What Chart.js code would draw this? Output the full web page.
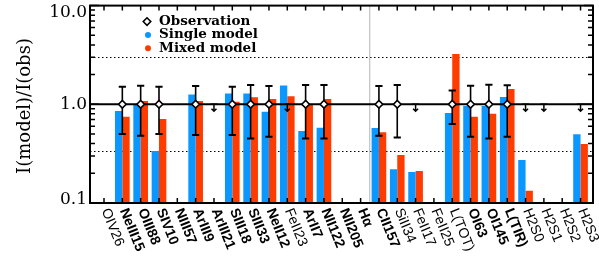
<!DOCTYPE html>
<html>
<head>
<meta charset="utf-8">
<script src="https://cdn.jsdelivr.net/npm/chart.js@4.4.1/dist/chart.umd.min.js"></script>
<style>
html,body{margin:0;padding:0;background:#fff;}
#wrap{width:599px;height:272px;position:relative;}
</style>
</head>
<body>
<div id="wrap"><canvas id="myChart"></canvas></div>
<script>
// line names along the x axis, and which ones are printed in bold
var LINES = ['OIV26','NeIII15','OIII88','SIV10','NIII57','ArIII9','ArIII21','SIII18','SIII33','NeII12',
             'FeII23','ArII7','NII122','NII205','H\u03b1','CII157','SiII34','FeII17','FeII25','L(TOT)',
             'OI63','OI145','L(TIR)','H2S0','H2S1','H2S2','H2S3'];
var BOLD = [0,1,1,1,1,1,1,1,1,1, 0,1,1,1,1,1,0,0,0,0, 1,1,1,0,0,0,0];

// I(model)/I(obs)
var singleModel = [null,0.855,1.0,0.336,null,1.26,null,1.29,1.29,0.84,
                   1.55,0.536,0.58,null,null,0.575,0.22,0.206,null,0.816,
                   0.96,0.96,1.185,0.272,null,null,0.497];
var mixedModel  = [null,0.75,1.08,0.71,null,1.08,null,1.06,1.18,1.13,
                   1.21,1.0,1.13,null,null,0.52,0.306,0.211,null,3.23,
                   0.75,0.80,1.43,0.133,null,null,0.396];

// observations (normalised to 1) with error bar ends
var obsValue = [null,1,1,1,null,1,null,1,1,1, null,1,1,null,null,1,1,null,null,1, 1,1,1,null,null,null,null];
var obsHigh  = [null,1.51,1.54,1.51,null,1.53,null,1.51,1.57,1.53, null,1.57,1.57,null,null,1.53,1.57,null,null,1.38, 1.54,1.58,1.56,null,null,null,null];
var obsLow   = [null,0.50,0.48,0.50,null,0.49,null,0.49,0.45,0.47, null,0.45,0.45,null,null,0.48,0.46,null,null,0.63, 0.47,0.45,0.47,null,null,null,null];
// upper limits (arrow down from 1)
var upperLimit = [null,null,null,null,null,null,1,null,null,null, 1,null,null,null,null,null,null,1,null,null, null,null,null,1,1,null,1];

var yTickValues = [0.1, 1, 10];
var yTickLabels = ['0.1', '1.0', '10.0'];
var dottedLevels = [3, 1/3];

var BLUE = '#0a97ff';
var RED = '#ff3c00';

function pts(arr) {
    return arr.map(function(v, i) { return {x: i, y: v}; });
}

var overlay = {
    id: 'overlay',
    beforeDatasetsDraw: function(chart) {
        var ctx = chart.ctx, a = chart.chartArea, xs = chart.scales.x, ys = chart.scales.y;
        ctx.save();
        // dotted guide lines
        ctx.strokeStyle = '#000';
        ctx.lineWidth = 1;
        ctx.setLineDash([1.5, 2.5]);
        dottedLevels.forEach(function(v) {
            var py = Math.round(ys.getPixelForValue(v)) + 0.5;
            ctx.beginPath(); ctx.moveTo(a.left, py); ctx.lineTo(a.right, py); ctx.stroke();
        });
        ctx.setLineDash([]);
        // grey separator between Halpha and CII157
        var px = xs.getPixelForValue(14.5);
        ctx.strokeStyle = '#b4b4b4';
        ctx.beginPath(); ctx.moveTo(px, a.top); ctx.lineTo(px, a.bottom); ctx.stroke();
        ctx.restore();
    },
    beforeDatasetDraw: function(chart, args) {
        if (args.index !== 2) return;
        var ctx = chart.ctx, a = chart.chartArea, xs = chart.scales.x, ys = chart.scales.y;
        ctx.save();
        ctx.strokeStyle = '#000';
        // line at 1.0
        var p1 = ys.getPixelForValue(1);
        ctx.lineWidth = 2;
        ctx.beginPath(); ctx.moveTo(a.left, p1); ctx.lineTo(a.right, p1); ctx.stroke();
        // error bars
        for (var i = 0; i < LINES.length; i++) {
            if (obsValue[i] == null) continue;
            var px = xs.getPixelForValue(i);
            var hi = ys.getPixelForValue(obsHigh[i]), lo = ys.getPixelForValue(obsLow[i]);
            ctx.lineWidth = 1.6;
            ctx.beginPath(); ctx.moveTo(px, hi); ctx.lineTo(px, lo); ctx.stroke();
            ctx.lineWidth = 2;
            ctx.beginPath();
            ctx.moveTo(px - 3.6, hi); ctx.lineTo(px + 3.6, hi);
            ctx.moveTo(px - 3.6, lo); ctx.lineTo(px + 3.6, lo);
            ctx.stroke();
        }
        // upper limit arrows
        ctx.lineWidth = 1.5;
        for (var j = 0; j < LINES.length; j++) {
            if (upperLimit[j] == null) continue;
            var ax = xs.getPixelForValue(j), ay = ys.getPixelForValue(upperLimit[j]);
            ctx.beginPath();
            ctx.moveTo(ax - 3.5, ay); ctx.lineTo(ax + 3.5, ay);
            ctx.moveTo(ax, ay); ctx.lineTo(ax, ay + 7);
            ctx.moveTo(ax - 2.5, ay + 4.5); ctx.lineTo(ax, ay + 7); ctx.lineTo(ax + 2.5, ay + 4.5);
            ctx.stroke();
        }
        ctx.restore();
    },
    afterDraw: function(chart) {
        var ctx = chart.ctx, a = chart.chartArea, xs = chart.scales.x, ys = chart.scales.y;
        ctx.save();
        ctx.strokeStyle = '#000';
        // ticks on y (both sides, inward)
        ctx.lineWidth = 1.5;
        [0.1, 1].forEach(function(dec) {
            for (var k = 1; k <= 10; k++) {
                var v = dec * k;
                if (k === 10 && dec === 0.1) continue;
                var py = ys.getPixelForValue(v);
                var len = (k === 1 || k === 10) ? 9 : 5;
                ctx.beginPath();
                ctx.moveTo(a.left, py); ctx.lineTo(a.left + len, py);
                ctx.moveTo(a.right, py); ctx.lineTo(a.right - len, py);
                ctx.stroke();
            }
        });
        // ticks on x (top and bottom, inward)
        for (var i = 0; i < LINES.length; i++) {
            var px = xs.getPixelForValue(i);
            ctx.beginPath();
            ctx.moveTo(px, a.top); ctx.lineTo(px, a.top + 5);
            ctx.moveTo(px, a.bottom); ctx.lineTo(px, a.bottom - 5);
            ctx.stroke();
        }
        // frame
        ctx.lineWidth = 2;
        ctx.strokeRect(a.left, a.top, a.right - a.left, a.bottom - a.top);

        // y tick labels
        ctx.fillStyle = '#000';
        ctx.font = '17px "DejaVu Serif"';
        ctx.textAlign = 'right';
        ctx.textBaseline = 'middle';
        var yOff = [-3, 0, 7];
        yTickValues.forEach(function(v, n) {
            ctx.fillText(yTickLabels[n], a.left - 3, ys.getPixelForValue(v) + yOff[n]);
        });

        // y title
        ctx.save();
        ctx.translate(25, 106);
        ctx.rotate(-Math.PI / 2);
        ctx.textAlign = 'center';
        ctx.font = '18px "DejaVu Serif"';
        ctx.fillText('I(model)/I(obs)', 0, 0);
        ctx.restore();

        // rotated x labels
        for (var m = 0; m < LINES.length; m++) {
            var lx = xs.getPixelForValue(m);
            ctx.save();
            ctx.translate(lx + 1, a.bottom + 6);
            ctx.rotate(68 * Math.PI / 180);
            ctx.textAlign = 'left';
            ctx.textBaseline = 'middle';
            ctx.font = (BOLD[m] ? 'bold ' : '') + '14px "Liberation Sans"';
            ctx.fillText(LINES[m], 0, 0);
            ctx.restore();
        }

        // legend
        var lx0 = a.left + 57, ly0 = a.top + 16;
        ctx.font = 'bold 13.5px "DejaVu Serif"';
        ctx.textAlign = 'left';
        ctx.textBaseline = 'middle';
        ctx.lineWidth = 1.5;
        ctx.fillStyle = '#fff';
        ctx.beginPath();
        ctx.moveTo(lx0, ly0 - 3.8); ctx.lineTo(lx0 + 3.8, ly0); ctx.lineTo(lx0, ly0 + 3.8); ctx.lineTo(lx0 - 3.8, ly0);
        ctx.closePath(); ctx.fill(); ctx.stroke();
        ctx.fillStyle = BLUE;
        ctx.beginPath(); ctx.arc(lx0 + 1, ly0 + 13.3, 3, 0, 2 * Math.PI); ctx.fill();
        ctx.fillStyle = RED;
        ctx.beginPath(); ctx.arc(lx0 + 1, ly0 + 26.6, 3, 0, 2 * Math.PI); ctx.fill();
        ctx.fillStyle = '#000';
        ctx.fillText('Observation', lx0 + 12, ly0);
        ctx.fillText('Single model', lx0 + 12, ly0 + 13.3);
        ctx.fillText('Mixed model', lx0 + 12, ly0 + 26.6);
        ctx.restore();
    }
};

var ctx = document.getElementById('myChart').getContext('2d');
var chart = new Chart(ctx, {
    type: 'bar',
    data: {
        datasets: [{
            label: 'Single model',
            data: pts(singleModel),
            backgroundColor: BLUE,
            borderWidth: 0,
            categoryPercentage: 0.8,
            barPercentage: 1.0,
            order: 1
        }, {
            label: 'Mixed model',
            data: pts(mixedModel),
            backgroundColor: RED,
            borderWidth: 0,
            categoryPercentage: 0.8,
            barPercentage: 1.0,
            order: 1
        }, {
            type: 'line',
            label: 'Observation',
            data: pts(obsValue),
            showLine: false,
            pointStyle: 'rectRot',
            pointRadius: 3.8,
            pointBackgroundColor: '#fff',
            pointBorderColor: '#000',
            pointBorderWidth: 1.6,
            order: 0
        }]
    },
    options: {
        responsive: true,
        maintainAspectRatio: false,
        animation: false,
        layout: { padding: { left: 90, right: 6, top: 5, bottom: 69 } },
        plugins: { legend: { display: false }, tooltip: { enabled: false } },
        scales: {
            x: { type: 'linear', offset: false, min: -0.764, max: 26.68, display: false },
            y: { type: 'logarithmic', min: 0.1, max: 10, display: false }
        }
    },
    plugins: [overlay]
});
</script>
</body>
</html>
